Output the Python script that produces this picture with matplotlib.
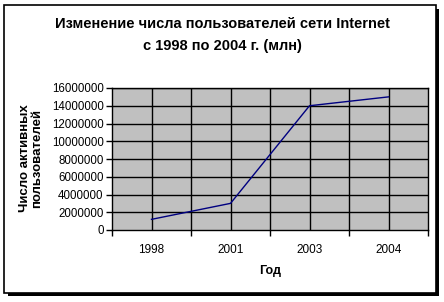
import matplotlib.pyplot as plt
from matplotlib.patches import Rectangle

plt.rcParams['font.family'] = ['Liberation Sans', 'DejaVu Sans']

years = ['1998', '2001', '2003', '2004']
users = [1200000, 3000000, 14000000, 15000000]
y_ticks = list(range(0, 16000001, 2000000))

W, H = 444, 302
fig = plt.figure(figsize=(W / 100, H / 100), dpi=100)

# chart frame with shadow (pixel coords -> figure fraction)
def box(x0, y0, x1, y1, **kw):
    fig.patches.append(Rectangle((x0 / W, 1 - y1 / H), (x1 - x0) / W, (y1 - y0) / H,
                                 transform=fig.transFigure, **kw))

box(8, 9, 439, 296, facecolor='black', edgecolor='none', zorder=0)
box(4, 5, 436, 293, facecolor='white', edgecolor='black', linewidth=1.2, zorder=1)

ax = fig.add_axes([112 / W, 1 - 230 / H, 316 / W, 142 / H])
ax.set_facecolor('#c0c0c0')
ax.set_zorder(2)

x = [i + 0.5 for i in range(len(years))]
ax.plot(x, users, color='#000080', linewidth=1.0)

ax.set_xlim(0, len(years))
ax.set_ylim(0, 16000000)
ax.set_yticks(y_ticks)
ax.set_yticklabels([str(v) for v in y_ticks], fontsize=8.3)
ax.set_xticks(range(len(years) + 1))
ax.set_xticklabels([])
ax.set_xticks(x, minor=True)
ax.set_xticklabels(years, minor=True, fontsize=8.5)
ax.tick_params(axis='x', which='minor', length=0, pad=10)
ax.tick_params(axis='x', which='major', length=4, width=1, direction='out')
ax.tick_params(axis='y', length=4, width=1, direction='out', pad=2)

for v in y_ticks[1:]:
    ax.axhline(v, color='black', linewidth=1.0, zorder=1)
for v in [i * 0.5 for i in range(1, 2 * len(years))]:
    ax.axvline(v, color='black', linewidth=1.0, zorder=1)

for side in ['top', 'right', 'left', 'bottom']:
    ax.spines[side].set_linewidth(1.0)

fig.text(222 / W, 1 - 24 / H, 'Изменение числа пользователей сети Internet',
         ha='center', va='center', fontsize=10.5, fontweight='bold')
fig.text(222 / W, 1 - 46 / H, 'с 1998 по 2004 г. (млн)',
         ha='center', va='center', fontsize=10.5, fontweight='bold')
fig.text(270 / W, 1 - 271 / H, 'Год', ha='center', va='center',
         fontsize=9, fontweight='bold')
fig.text(31 / W, 1 - 158 / H, 'Число активных\nпользователей', ha='center', va='center',
         rotation=90, fontsize=9.5, fontweight='bold', linespacing=1.0)

fig.savefig('out.png', dpi=100)
